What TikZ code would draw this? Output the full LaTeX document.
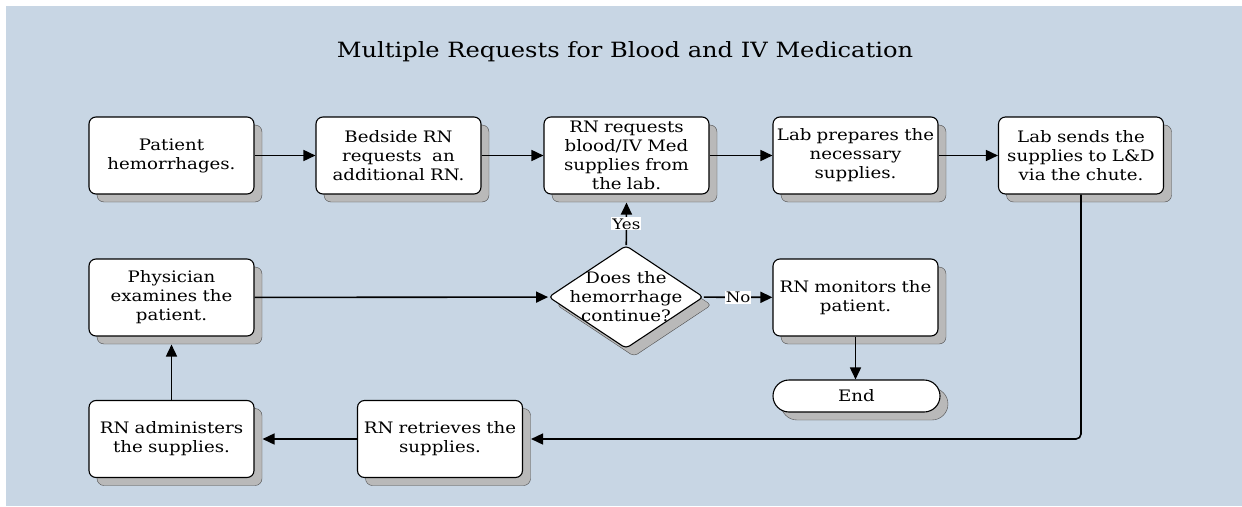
\documentclass[tikz,border=0pt]{standalone}
\usepackage{fontspec}
\setmainfont{DejaVu Serif}[FakeStretch=1.15]
\usetikzlibrary{arrows.meta}
\usetikzlibrary{shapes.geometric}
\usetikzlibrary{shadows}

\definecolor{panel}{RGB}{200,214,228}
\newcommand{\boxfont}{\fontsize{15.8}{19}\selectfont}

\tikzset{
  shade it/.style={drop shadow={shadow xshift=8pt,shadow yshift=-8pt,fill=gray!55,draw=gray!60!black,line width=0.4pt,opacity=1}},
  box/.style={shape=rectangle,draw,fill=white,rounded corners=7pt,line width=1.1pt,minimum width=165pt,minimum height=77pt,text width=163pt,align=center,inner sep=0pt,font=\boxfont,shade it},
  decide/.style={shape=diamond,draw,fill=white,rounded corners=4pt,line width=1.1pt,minimum width=155pt,minimum height=103pt,aspect=1.5,inner sep=0pt,shade it},
  stop/.style={shape=rectangle,draw,fill=white,rounded corners=16pt,line width=1.1pt,minimum width=167pt,minimum height=32pt,inner sep=0pt,font=\boxfont,shade it},
  flow/.style={line width=1.6pt,-{Triangle[length=12pt,width=11pt]}},
  tag/.style={fill=white,inner sep=1pt,font=\fontsize{14.5}{16}\selectfont}
}

\begin{document}
\begin{tikzpicture}[x=1pt,y=1pt]
\useasboundingbox (0,0) rectangle (1242,-506);
\fill[panel] (6,-6) rectangle (1242,-506);
\node (title) at (625,-52) {\fontsize{21}{25}\selectfont Multiple Requests for Blood and IV Medication};
\node (patient) [box] at (171.5,-155.5) {Patient\\hemorrhages.};
\node (bedside) [box] at (398.5,-155.5) {Bedside RN\\requests~ an\\additional RN.};
\node (request) [box] at (626.5,-155.5) {RN requests\\blood/IV Med\\supplies from\\the lab.};
\node (prep) [box] at (855.5,-155.5) {Lab prepares the\\necessary\\supplies.};
\node (send) [box] at (1081,-155.5) {Lab sends the\\supplies to L\&D\\via the chute.};
\node (phys) [box] at (171.5,-297.5) {Physician\\examines the\\patient.};
\node (dec) [decide] at (626,-297) {};
\node (dectext) [align=center,font=\boxfont] at (dec) {Does the\\hemorrhage\\continue?};
\node (monitor) [box] at (855.5,-297.5) {RN monitors the\\patient.};
\node (finish) [stop] at (856.5,-396) {End};
\node (admin) [box] at (171.5,-439) {RN administers\\the supplies.};
\node (retrieve) [box] at (440,-439) {RN retrieves the\\supplies.};
\draw[flow] (patient) -- (bedside);
\draw[flow] (bedside) -- (request);
\draw[flow] (request) -- (prep);
\draw[flow] (prep) -- (send);
\draw[flow,rounded corners=5pt] (send.south) |- ([xshift=8pt]retrieve.east);
\draw[flow] (retrieve) -- ([xshift=8pt]admin.east);
\draw[flow] (admin) -- ([yshift=-8pt]phys.south);
\draw[flow] (phys) -- (dec);
\draw[flow] (dec) -- node[tag] {Yes} ([yshift=-8pt]request.south);
\draw[flow] (dec) -- node[tag] {No} (monitor);
\draw[flow] (monitor.south) -- (finish.north -| monitor.south);
\end{tikzpicture}
\end{document}
